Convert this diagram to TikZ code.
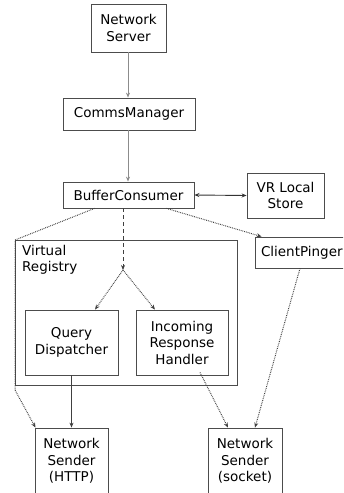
\documentclass[tikz,border=0pt]{standalone}
\usepackage{fontspec}
\setmainfont{DejaVu Sans}
\usetikzlibrary{arrows.meta}
\begin{document}
\begin{tikzpicture}[x=1pt,y=-1pt,
  font=\fontsize{13.5}{16.5}\selectfont,
  box/.style={draw=black!70, line width=0.8pt, inner sep=0pt, align=center},
  link/.style={draw=black!75, line width=0.8pt, -{Stealth[length=5pt,width=4pt]}},
  faint/.style={link, draw=black!45},
  dotlink/.style={link, densely dotted, line width=1pt},
  dashlink/.style={link, dash pattern=on 4pt off 3pt},
  both/.style={draw=black!80, line width=0.9pt, {Stealth[length=5pt,width=4pt]}-{Stealth[length=5pt,width=4pt]}}]
\useasboundingbox (0,0) rectangle (343,493);
\clip (0,0) rectangle (343,493);

% registry cluster
\draw[black!70, line width=0.8pt] (15,240) rectangle (237,385);
\node[anchor=north west, align=left, inner sep=0pt] (vrlabel) at (22,245) {Virtual\\Registry};

% components
\node[box, minimum width=75pt, minimum height=48pt] (ns) at (128.5,28) {Network\\Server};
\node[box, minimum width=132pt, minimum height=32pt] (cm) at (129,114) {CommsManager};
\node[box, minimum width=131pt, minimum height=26pt] (bc) at (128.5,195) {BufferConsumer};
\node[box, minimum width=77pt, minimum height=45pt] (vr) at (285.5,195.5) {VR Local\\Store};
\node[box, minimum width=98pt, minimum height=31pt, text width=98pt, align=left] (cp) at (304,252.5) {\hspace{6pt}ClientPinger};
\node[box, minimum width=93pt, minimum height=65pt] (qd) at (71.5,342.5) {Query\\Dispatcher};
\node[box, minimum width=92pt, minimum height=65pt] (irh) at (182,342.5) {Incoming\\Response\\Handler};
\node[box, minimum width=73pt, minimum height=66pt] (nsh) at (71.5,461) {Network\\Sender\\(HTTP)};
\node[box, minimum width=74pt, minimum height=66pt] (nss) at (245,461) {Network\\Sender\\(socket)};

\coordinate (split) at (123,270);

% connectors
\draw[faint] (ns.south -| 128,0) -- (cm.north -| 128,0);
\draw[faint] (cm.south -| 128,0) -- (bc.north -| 128,0);
\draw[both] (bc.east) -- (vr.west);
\draw[dashlink] (bc.south -| split) -- (split);
\draw[dotlink] (split) -- (qd.north -| 95,0);
\draw[dotlink] (split) -- (irh.north -| 155,0);
\draw[dotlink] ([xshift=38pt]bc.south) -- ([xshift=7pt]cp.north west);
\draw[dotlink] ([xshift=-34pt]bc.south) -- (15,240) -- (15,390) -- ([xshift=-36pt]nsh.north);
\draw[link] (qd.south) -- (nsh.north);
\draw[dotlink] ([xshift=18pt,yshift=3pt]irh.south) -- ([xshift=-17pt]nss.north);
\draw[dotlink] ([xshift=-4pt]cp.south) -- ([xshift=10pt]nss.north);
\end{tikzpicture}
\end{document}
